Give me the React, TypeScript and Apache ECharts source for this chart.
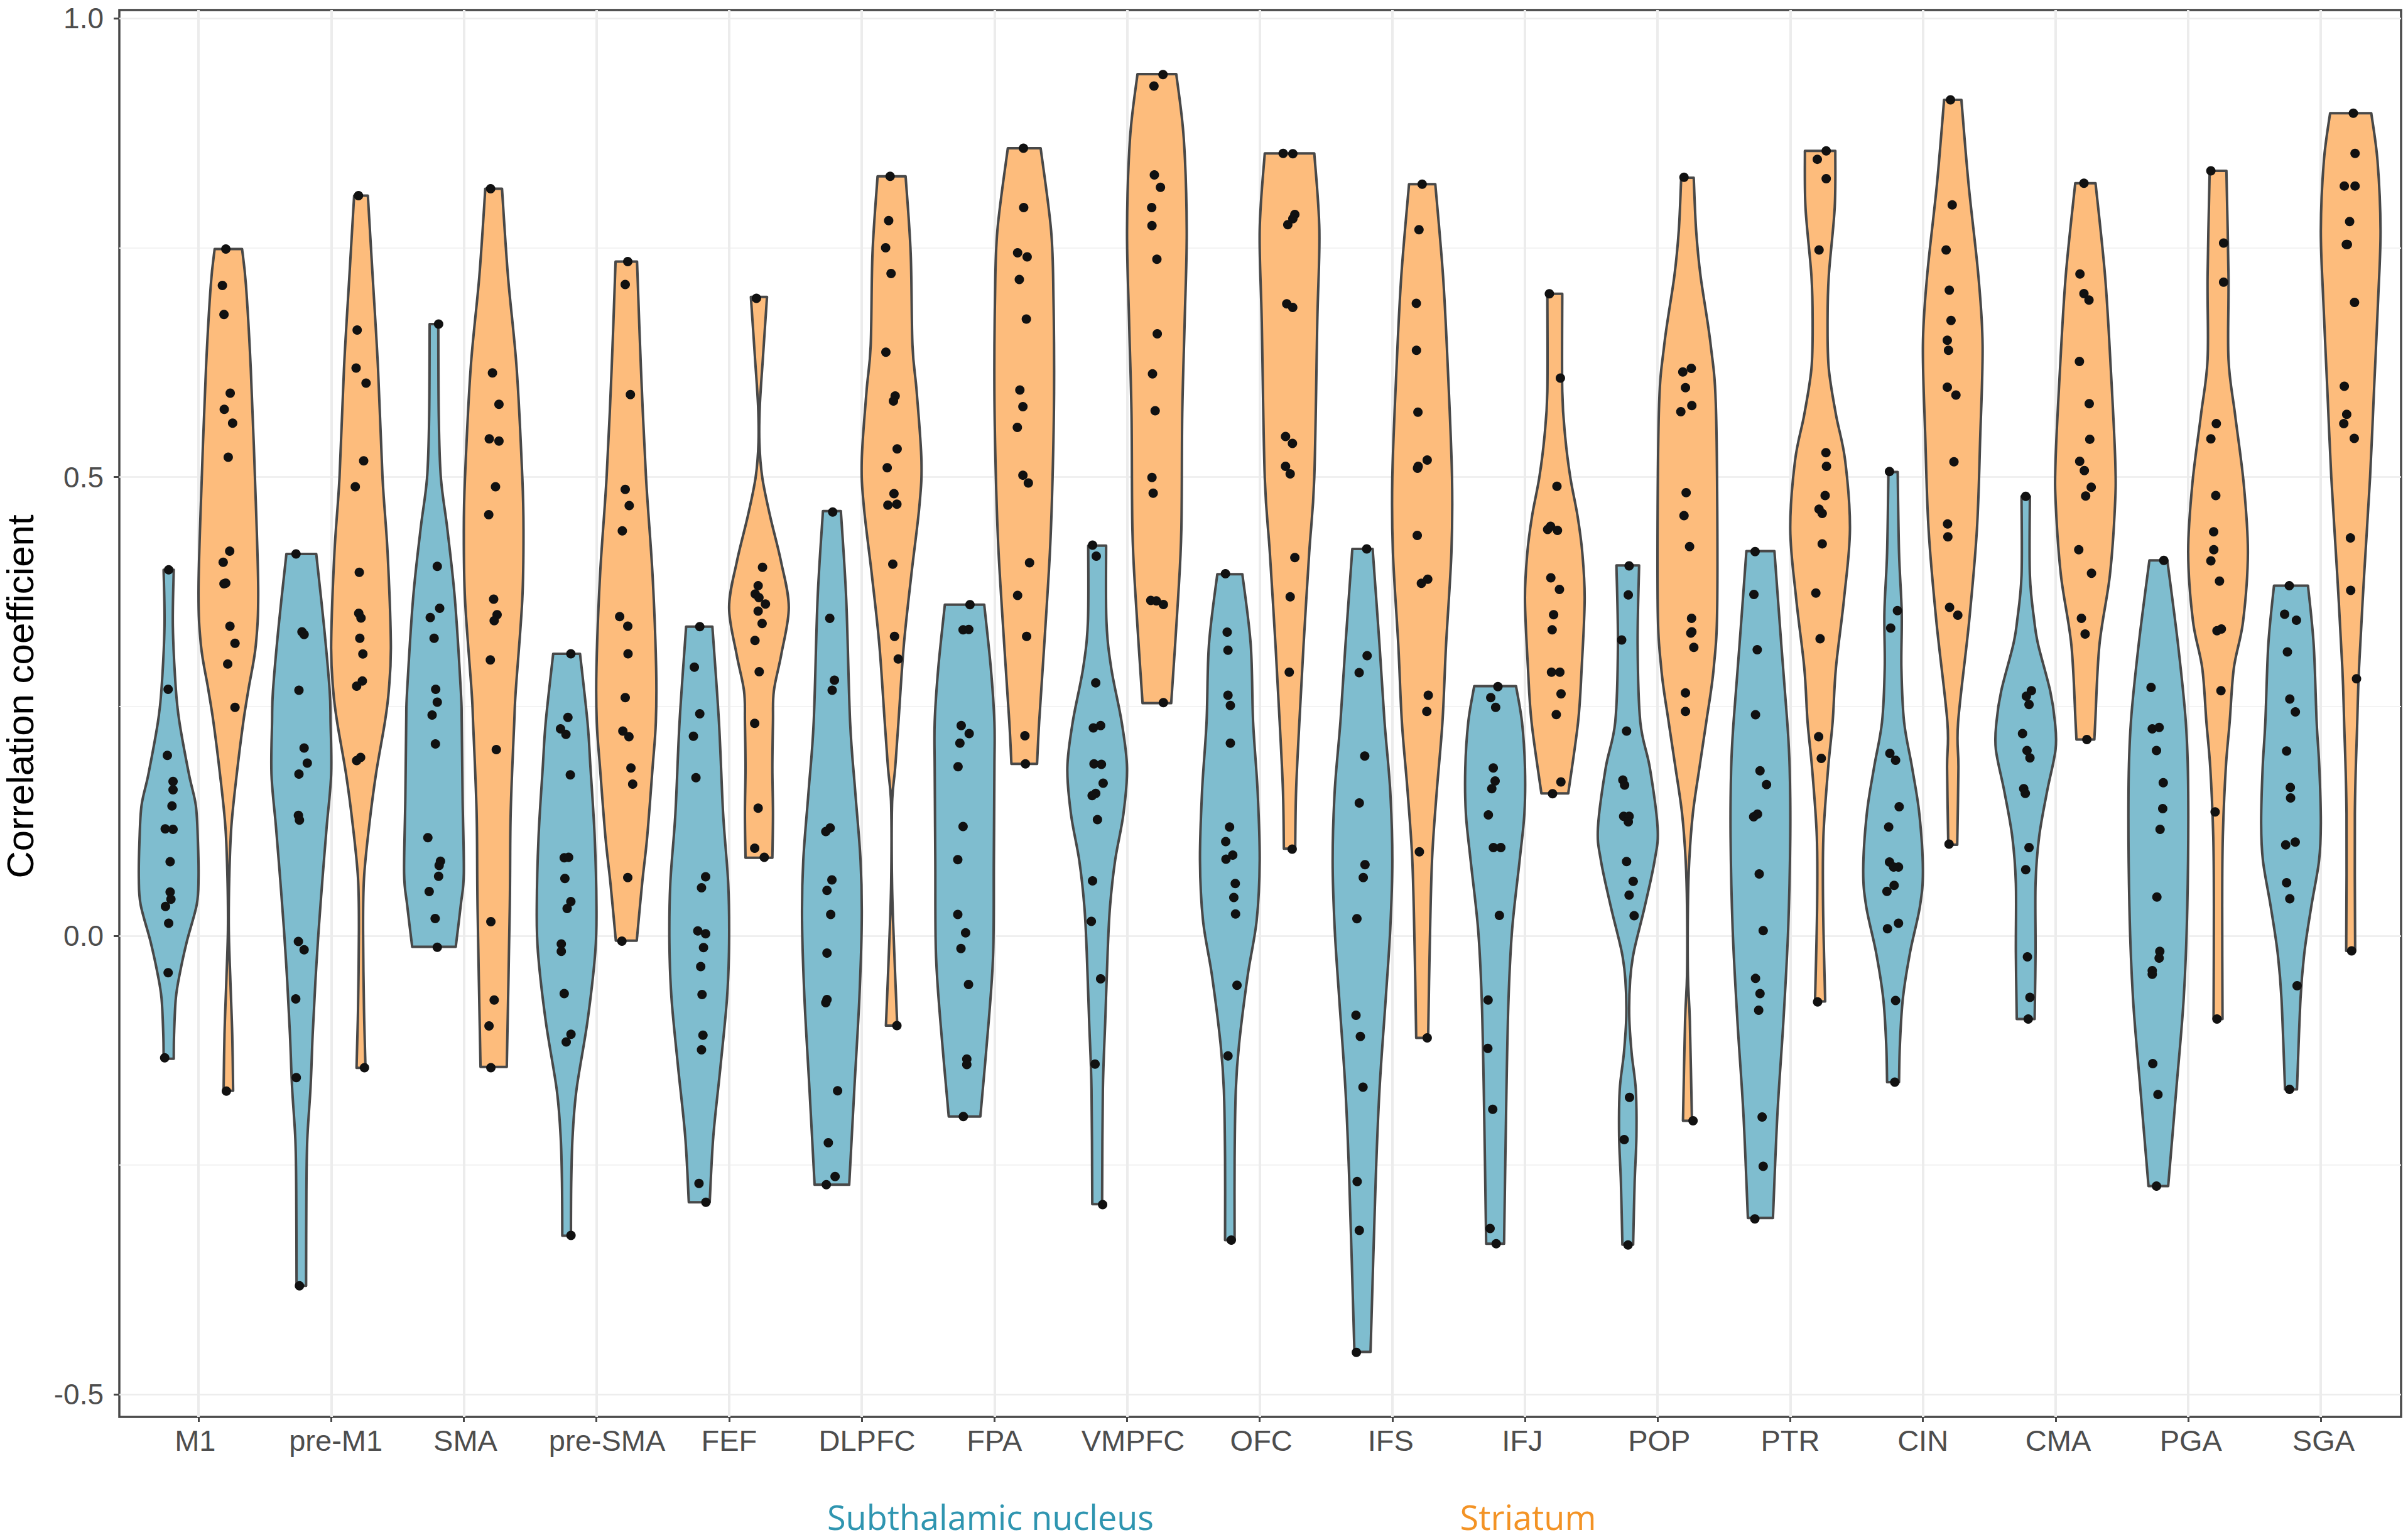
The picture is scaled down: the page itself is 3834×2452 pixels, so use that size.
import React, { useEffect, useRef } from "react";
import * as echarts from "echarts";

type Pair = [number, number];

const regions = ["M1","pre-M1","SMA","pre-SMA","FEF","DLPFC","FPA","VMPFC","OFC","IFS","IFJ","POP","PTR","CIN","CMA","PGA","SGA"];
const yTicks = [-0.5, 0, 0.5, 1];
const yMinorTicks = [-0.25, 0.25, 0.75];

// Violin outlines: [correlation, width relative to the widest point], top to bottom
const stnOutlines: Pair[][] = [
  [[.399,.17],[.3375,.14],[.269,.24],[.233,.36],[.176,.68],[.142,.91],[.102,.98],[.0625,1],[.034,.94],[-.006,.61],[-.04,.38],[-.068,.24],[-.108,.18],[-.134,.17]],
  [[.4163,.5],[.3375,.76],[.267,.95],[.233,.98],[.176,1],[.119,.85],[.0625,.71],[.006,.58],[-.051,.47],[-.108,.38],[-.165,.31],[-.222,.2],[-.279,.17],[-.3815,.16]],
  [[.6668,.145],[.5684,.16],[.5,.23],[.443,.45],[.3676,.7],[.267,.9],[.233,.93],[.148,.96],[.068,1],[.034,.9],[-.012,.73]],
  [[.3074,.45],[.233,.7],[.183,.8],[.108,.94],[.032,1],[-.018,.96],[-.093,.7],[-.168,.33],[-.219,.2],[-.269,.155],[-.327,.145]],
  [[.337,.44],[.233,.66],[.133,.8],[.057,.97],[-.008,1],[-.068,.93],[-.143,.71],[-.219,.47],[-.2905,.35]],
  [[.463,.3],[.367,.48],[.233,.61],[.158,.78],[.082,.96],[.017,1],[-.068,.92],[-.168,.75],[-.2714,.58]],
  [[.361,.66],[.292,.88],[.233,1],[.183,1],[.082,.98],[-.018,.96],[-.093,.81],[-.197,.53]],
  [[.4253,.3],[.343,.31],[.292,.47],[.233,.82],[.183,1],[.133,.88],[.082,.6],[.032,.43],[-.018,.35],[-.093,.27],[-.168,.19],[-.2925,.165]],
  [[.3942,.42],[.3174,.7],[.233,.78],[.158,.93],[.082,1],[.017,.9],[-.043,.6],[-.118,.31],[-.168,.2],[-.244,.16],[-.3317,.16]],
  [[.4218,.34],[.3174,.57],[.233,.74],[.158,.93],[.082,1],[.007,.93],[-.068,.78],[-.168,.57],[-.269,.44],[-.4536,.27]],
  [[.2722,.7],[.233,.9],[.183,1],[.133,.98],[.082,.82],[.007,.57],[-.068,.45],[-.168,.38],[-.3357,.3]],
  [[.4037,.38],[.3174,.33],[.233,.42],[.183,.74],[.1177,1],[.082,.9],[.032,.57],[-.018,.2],[-.048,.08],[-.088,.05],[-.128,.13],[-.168,.27],[-.219,.29],[-.269,.23],[-.3367,.18]],
  [[.4193,.47],[.3174,.7],[.233,.9],[.183,.98],[.108,1],[.007,.93],[-.093,.77],[-.194,.57],[-.3076,.42]],
  [[.5056,.155],[.4178,.2],[.3525,.29],[.292,.28],[.233,.37],[.183,.64],[.133,.88],[.072,1],[.032,.9],[-.018,.57],[-.068,.33],[-.118,.23],[-.1595,.2]],
  [[.479,.14],[.393,.14],[.3426,.29],[.317,.42],[.267,.82],[.233,.98],[.203,1],[.158,.72],[.108,.45],[.057,.33],[-.018,.33],[-.0907,.3]],
  [[.4093,.3],[.3174,.66],[.233,.92],[.158,1],[.032,.97],[-.068,.85],[-.168,.6],[-.2729,.33]],
  [[.3816,.57],[.3174,.76],[.233,.86],[.183,.95],[.1227,1],[.082,.94],[.032,.68],[-.018,.45],[-.068,.32],[-.1675,.2]],
];

const strOutlines: Pair[][] = [
  [[.7486,.46],[.709,.59],[.6186,.75],[.5,.89],[.378,1],[.317,.92],[.27,.68],[.233,.5],[.176,.28],[.119,.1],[.0625,.03],[.006,.015],[-.051,.07],[-.108,.13],[-.169,.16]],
  [[.8068,.23],[.719,.39],[.6186,.57],[.5,.72],[.418,.89],[.317,1],[.267,.93],[.233,.8],[.176,.5],[.119,.27],[.0625,.1],[.006,.07],[-.08,.1],[-.144,.15]],
  [[.8144,.28],[.719,.48],[.619,.77],[.5,.96],[.443,1],[.367,.96],[.267,.74],[.233,.69],[.133,.57],[.032,.54],[-.143,.44]],
  [[.735,.36],[.619,.49],[.5,.66],[.393,.88],[.292,1],[.233,.99],[.183,.88],[.108,.7],[.057,.53],[-.0054,.35]],
  [[.6964,.27],[.6286,.13],[.578,.03],[.538,.015],[.5,.11],[.458,.37],[.408,.74],[.358,1],[.307,.75],[.267,.5],[.233,.47],[.183,.45],[.133,.47],[.085,.45]],
  [[.8279,.47],[.744,.64],[.6437,.7],[.5935,.84],[.518,1],[.468,.93],[.393,.66],[.317,.41],[.233,.23],[.183,.12],[.143,.015],[.057,.015],[-.018,.09],[-.098,.19]],
  [[.8586,.55],[.769,.9],[.694,.98],[.593,1],[.5,.95],[.418,.86],[.317,.67],[.233,.5],[.1874,.43]],
  [[.9394,.65],[.8696,.9],[.7692,1],[.6688,.93],[.5684,.85],[.443,.82],[.3676,.71],[.2536,.48]],
  [[.853,.83],[.7692,1],[.6688,.93],[.5,.83],[.4178,.66],[.317,.47],[.233,.33],[.158,.22],[.095,.19]],
  [[.8194,.44],[.719,.7],[.6186,.86],[.5,1],[.418,.98],[.317,.8],[.233,.68],[.158,.49],[.082,.33],[-.018,.25],[-.1113,.2]],
  [[.6999,.25],[.5935,.25],[.5433,.35],[.4996,.52],[.458,.76],[.418,.92],[.367,1],[.292,.9],[.233,.78],[.1553,.45]],
  [[.8264,.21],[.7692,.29],[.719,.44],[.6437,.78],[.5684,.96],[.367,1],[.292,.88],[.233,.63],[.183,.4],[.133,.18],[.082,.06],[.032,.015],[-.043,.015],[-.093,.08],[-.2016,.15]],
  [[.8556,.51],[.7943,.49],[.719,.29],[.669,.25],[.6186,.29],[.5684,.53],[.518,.84],[.443,1],[.367,.8],[.292,.53],[.233,.42],[.183,.27],[.108,.11],[.032,.1],[-.0716,.17]],
  [[.9113,.29],[.8194,.53],[.719,.86],[.6437,1],[.5433,.92],[.443,.81],[.343,.55],[.233,.18],[.183,.19],[.0993,.15]],
  [[.8204,.34],[.719,.66],[.6186,.85],[.518,1],[.468,.99],[.393,.82],[.317,.47],[.233,.33],[.214,.3]],
  [[.834,.28],[.719,.35],[.6286,.35],[.5684,.57],[.493,.86],[.418,1],[.343,.84],[.292,.53],[.233,.39],[.183,.26],[.108,.16],[.032,.14],[-.0907,.15]],
  [[.8967,.69],[.8445,.9],[.7692,1],[.694,.92],[.5935,.78],[.5,.65],[.393,.45],[.292,.28],[.233,.22],[.133,.14],[-.0164,.15]],
];

// Subject points: [horizontal offset from the region's centre, correlation]
const stnPoints: Pair[][] = [
  [[-.225,.399],[-.229,.2687],[-.235,.1967],[-.192,.1683],[-.192,.1592],[-.2,.1416],[-.251,.1166],[-.192,.116],[-.214,.0807],[-.214,.0478],[-.208,.0398],[-.249,.0319],[-.225,.0137],[-.229,-.0403],[-.255,-.133]],
  [[-.265,.4163],[-.22,.3314],[-.204,.3284],[-.243,.2677],[-.204,.2047],[-.18,.1882],[-.243,.1763],[-.247,.1313],[-.239,.1262],[-.247,-.0062],[-.204,-.0153],[-.267,-.0688],[-.263,-.1546],[-.239,-.3815]],
  [[-.19,.6668],[-.2,.4027],[-.182,.357],[-.253,.347],[-.224,.3244],[-.212,.2687],[-.2,.2546],[-.239,.2406],[-.214,.2092],[-.271,.1069],[-.176,.0813],[-.186,.0767],[-.19,.0648],[-.261,.0483],[-.216,.0188],[-.2,-.0125]],
  [[-.193,.3074],[-.215,.238],[-.271,.2256],[-.23,.2195],[-.197,.1754],[-.243,.085],[-.21,.0855],[-.238,.0624],[-.193,.0373],[-.221,.0298],[-.265,-.0089],[-.265,-.0169],[-.243,-.063],[-.192,-.1073],[-.228,-.1158],[-.192,-.3266]],
  [[-.221,.337],[-.262,.2928],[-.221,.242],[-.269,.2175],[-.25,.1724],[-.177,.0644],[-.208,.0524],[-.236,.0052],[-.177,.0022],[-.193,-.0129],[-.214,-.0335],[-.204,-.0641],[-.197,-.1083],[-.208,-.1243],[-.227,-.2699],[-.175,-.2905]],
  [[-.219,.462],[-.241,.346],[-.206,.2787],[-.223,.2677],[-.238,.1176],[-.271,.1136],[-.225,.0609],[-.262,.0494],[-.234,.0233],[-.262,-.0189],[-.262,-.0696],[-.271,-.073],[-.182,-.169],[-.252,-.2257],[-.201,-.2624],[-.267,-.2714]],
  [[-.184,.361],[-.236,.3335],[-.193,.334],[-.25,.2291],[-.19,.2205],[-.26,.21],[-.274,.1844],[-.236,.1191],[-.276,.083],[-.276,.0233],[-.217,.0032],[-.252,-.0139],[-.195,-.0531],[-.208,-.1344],[-.208,-.1404],[-.234,-.1971]],
  [[-.26,.4258],[-.232,.4138],[-.236,.2757],[-.254,.2266],[-.199,.2291],[-.249,.1874],[-.193,.1869],[-.18,.1663],[-.236,.1553],[-.263,.1528],[-.223,.1267],[-.26,.0599],[-.269,.0157],[-.199,-.047],[-.241,-.1399],[-.184,-.293]],
  [[-.258,.3947],[-.245,.331],[-.239,.3114],[-.239,.2622],[-.221,.2511],[-.221,.21],[-.227,.1186],[-.256,.1026],[-.203,.088],[-.254,.0835],[-.184,.0569],[-.195,.0418],[-.182,.0238],[-.171,-.054],[-.239,-.1309],[-.214,-.3317]],
  [[-.193,.4218],[-.19,.3053],[-.25,.2868],[-.208,.196],[-.249,.1447],[-.206,.0775],[-.219,.0634],[-.267,.0187],[-.274,-.0867],[-.241,-.1098],[-.221,-.165],[-.265,-.2679],[-.249,-.3211],[-.271,-.4541]],
  [[-.204,.2717],[-.258,.2597],[-.221,.2491],[-.239,.1829],[-.225,.1688],[-.25,.1603],[-.276,.1317],[-.238,.0961],[-.182,.0961],[-.193,.0223],[-.278,-.07],[-.28,-.1228],[-.243,-.1891],[-.263,-.3191],[-.217,-.3357]],
  [[-.215,.4032],[-.221,.3716],[-.271,.3224],[-.234,.2231],[-.262,.1698],[-.249,.1643],[-.256,.1302],[-.215,.1302],[-.221,.1242],[-.234,.081],[-.184,.0594],[-.215,.0443],[-.177,.0218],[-.212,-.1761],[-.252,-.2222],[-.223,-.337]],
  [[-.265,.4188],[-.274,.3721],[-.249,.3119],[-.262,.241],[-.228,.1799],[-.179,.1648],[-.247,.1327],[-.276,.1297],[-.234,.0674],[-.204,.0057],[-.262,-.0465],[-.228,-.0631],[-.238,-.0812],[-.212,-.1976],[-.204,-.2513],[-.267,-.3086]],
  [[-.252,.5061],[-.192,.3545],[-.243,.3355],[-.249,.1989],[-.206,.1914],[-.179,.1407],[-.258,.1186],[-.252,.0805],[-.221,.075],[-.184,.075],[-.217,.0549],[-.271,.0484],[-.184,.0137],[-.267,.0077],[-.206,-.0706],[-.212,-.1595]],
  [[-.225,.4791],[-.182,.2672],[-.2,.2521],[-.22,.2611],[-.249,.2205],[-.215,.202],[-.193,.1939],[-.24,.1603],[-.228,.1553],[-.2,.0961],[-.225,.072],[-.212,-.0229],[-.193,-.0671],[-.206,-.0907]],
  [[-.184,.4093],[-.28,.2707],[-.271,.2256],[-.219,.2271],[-.239,.202],[-.188,.1668],[-.192,.1387],[-.212,.1161],[-.236,.0423],[-.214,-.0169],[-.219,-.0244],[-.271,-.038],[-.271,-.042],[-.267,-.1394],[-.228,-.173],[-.239,-.2729]],
  [[-.238,.3816],[-.273,.3505],[-.184,.344],[-.252,.3094],[-.234,.2581],[-.192,.2441],[-.258,.2015],[-.23,.1618],[-.228,.1503],[-.193,.1021],[-.265,.0991],[-.258,.0579],[-.234,.0403],[-.179,-.0545],[-.236,-.1675]],
];

const strPoints: Pair[][] = [
  [[.206,.7486],[.18,.709],[.192,.6773],[.239,.5915],[.194,.5739],[.257,.5589],[.224,.5217],[.235,.4193],[.186,.4072],[.192,.3837],[.205,.3845],[.237,.3375],[.275,.3189],[.22,.2963],[.275,.2491],[.21,-.1694]],
  [[.206,.8068],[.196,.6603],[.188,.619],[.263,.6025],[.245,.5177],[.182,.4896],[.212,.3962],[.208,.3515],[.225,.3465],[.216,.3244],[.239,.3073],[.235,.2777],[.192,.2722],[.222,.1944],[.192,.191],[.251,-.1438]],
  [[.202,.8144],[.216,.6136],[.265,.5794],[.192,.5418],[.265,.5393],[.239,.4896],[.188,.459],[.225,.367],[.251,.35],[.229,.3435],[.2,.3008],[.245,.203],[.204,.0154],[.229,-.07],[.19,-.0983],[.204,-.1438]],
  [[.236,.735],[.217,.71],[.256,.59],[.217,.4866],[.247,.469],[.195,.4414],[.175,.348],[.236,.3375],[.238,.3074],[.217,.2597],[.199,.2231],[.245,.217],[.26,.1829],[.273,.1653],[.236,.0634],[.192,-.0059]],
  [[.206,.695],[.252,.4017],[.219,.3816],[.197,.3726],[.225,.3686],[.274,.3616],[.219,.354],[.249,.3405],[.195,.322],[.227,.2878],[.193,.2316],[.219,.1392],[.193,.0955],[.265,.0855]],
  [[.214,.8279],[.203,.7797],[.18,.7501],[.221,.722],[.182,.6362],[.252,.5885],[.239,.5829],[.267,.5307],[.192,.5102],[.243,.482],[.197,.4695],[.265,.4705],[.234,.4052],[.247,.3264],[.275,.3018],[.265,-.098]],
  [[.219,.8586],[.221,.7938],[.175,.7446],[.247,.7401],[.188,.7155],[.241,.6723],[.192,.595],[.215,.5769],[.173,.5543],[.215,.5021],[.256,.4936],[.265,.4067],[.175,.3711],[.243,.3264],[.23,.218],[.234,.1874]],
  [[.271,.9389],[.203,.9263],[.206,.8294],[.252,.8159],[.186,.7938],[.188,.7742],[.225,.7376],[.228,.6562],[.192,.6126],[.212,.5724],[.188,.4996],[.197,.4825],[.179,.3656],[.221,.3651],[.274,.3611],[.274,.2541]],
  [[.177,.853],[.25,.8525],[.265,.7863],[.25,.7817],[.212,.7752],[.204,.689],[.249,.685],[.195,.5443],[.247,.5368],[.195,.5117],[.23,.5036],[.265,.4123],[.23,.3696],[.223,.2873],[.245,.0945]],
  [[.225,.8194],[.201,.7697],[.181,.6894],[.182,.6382],[.193,.5709],[.263,.5187],[.195,.5117],[.19,.5097],[.188,.4364],[.267,.3887],[.219,.3842],[.271,.2622],[.26,.2446],[.204,.0915],[.263,-.1113]],
  [[.184,.6999],[.267,.608],[.241,.49],[.171,.4429],[.193,.4464],[.245,.4419],[.195,.3902],[.26,.3776],[.216,.35],[.205,.3335],[.2,.2873],[.263,.2873],[.272,.2637],[.236,.2411],[.271,.1678],[.208,.1548]],
  [[.199,.8269],[.19,.6146],[.254,.6186],[.21,.5975],[.258,.578],[.175,.5714],[.215,.4831],[.199,.458],[.241,.4243],[.256,.346],[.258,.3314],[.25,.33],[.273,.3144],[.21,.2647],[.21,.2446],[.267,-.2016]],
  [[.271,.8556],[.204,.8465],[.271,.8254],[.217,.7476],[.269,.5267],[.273,.5117],[.263,.48],[.217,.465],[.241,.4605],[.241,.4273],[.193,.3736],[.225,.3239],[.214,.217],[.234,.1934],[.206,-.0721]],
  [[.208,.9113],[.221,.7968],[.175,.7476],[.199,.7039],[.212,.6708],[.184,.6492],[.193,.6382],[.184,.598],[.249,.5895],[.234,.5167],[.186,.4489],[.188,.4349],[.201,.358],[.263,.3495],[.197,.1]],
  [[.214,.8204],[.184,.7215],[.214,.7],[.252,.693],[.18,.6261],[.254,.58],[.258,.5413],[.182,.5172],[.217,.5071],[.269,.489],[.227,.4795],[.175,.4208],[.271,.3952],[.195,.346],[.223,.3289],[.236,.214]],
  [[.171,.834],[.267,.7551],[.267,.7125],[.212,.5584],[.171,.5418],[.208,.48],[.192,.4404],[.193,.4208],[.171,.4088],[.236,.3867],[.25,.3345],[.217,.3325],[.247,.2672],[.203,.135],[.217,-.0907]],
  [[.245,.8967],[.258,.853],[.177,.8174],[.258,.8174],[.217,.7787],[.192,.7536],[.2,.7536],[.254,.6904],[.177,.599],[.195,.5684],[.173,.5584],[.252,.5423],[.223,.4338],[.225,.3766],[.269,.2802],[.232,-.0164]],
];

const dodge = 0.225;
const X_MIN = 0.403, X_MAX = 17.605, Y_MIN = -0.5245, Y_MAX = 1.0092;

// The labels in the reference sit slightly off their ticks
const labelNudge = [-.025,.035,.012,.08,0,.04,0,.045,.012,-.012,-.02,.012,0,0,.02,.02,.02];
const labelValues = regions.map((_, i) => i + 1 + labelNudge[i]);

function outlinePath(api: any, center: number, outline: Pair[]): string {
  const n = outline.length;
  const side = (sign: number, pts: Pair[]) => {
    let d = "";
    for (let i = 0; i < pts.length - 1; i++) {
      const p0 = pts[Math.max(i - 1, 0)], p1 = pts[i], p2 = pts[i + 1], p3 = pts[Math.min(i + 2, pts.length - 1)];
      const c1v = p1[0] + (p2[0] - p0[0]) / 6, c2v = p2[0] - (p3[0] - p1[0]) / 6;
      const c1w = Math.max(0, p1[1] + (p2[1] - p0[1]) / 6), c2w = Math.max(0, p2[1] - (p3[1] - p1[1]) / 6);
      const a = api.coord([center + sign * c1w * dodge, c1v]);
      const b = api.coord([center + sign * c2w * dodge, c2v]);
      const c = api.coord([center + sign * p2[1] * dodge, p2[0]]);
      d += `C${a[0]} ${a[1]} ${b[0]} ${b[1]} ${c[0]} ${c[1]}`;
    }
    return d;
  };
  const start = api.coord([center - outline[0][1] * dodge, outline[0][0]]);
  const reversed = [...outline].reverse();
  const bottomRight = api.coord([center + outline[n - 1][1] * dodge, outline[n - 1][0]]);
  return `M${start[0]} ${start[1]}` + side(-1, outline) + `L${bottomRight[0]} ${bottomRight[1]}` + side(1, reversed) + "Z";
}

const violinSeries = (name: string, outlines: Pair[][], shift: number, fill: string) => ({
  type: "custom",
  name,
  silent: true,
  z: 3,
  data: regions.map((_, i) => [i + 1, 0]),
  encode: { x: 0, y: 1 },
  renderItem: (params: any, api: any) => {
    const idx = api.value(0) as number;
    return {
      type: "path",
      shape: { pathData: outlinePath(api, idx + shift, outlines[idx - 1]) },
      style: { fill, stroke: "#484848", lineWidth: 4, lineJoin: "round" },
    };
  },
});

const pointSeries = (name: string, points: Pair[][]) => ({
  type: "scatter",
  name,
  silent: true,
  z: 5,
  symbolSize: 15,
  itemStyle: { color: "#111111", opacity: 1 },
  data: points.flatMap((list, i) => list.map(([dx, v]) => [i + 1 + dx, v])),
});

export default function App() {
  const ref = useRef<HTMLDivElement>(null);
  useEffect(() => {
    const chart = echarts.init(ref.current!, undefined, { renderer: "svg" });
    chart.setOption({
      animation: false,
      backgroundColor: "#ffffff",
      grid: { left: 190, top: 16, right: 11, bottom: 196, show: true, borderColor: "#484848", borderWidth: 3.5, backgroundColor: "#ffffff", z: 0 },
      xAxis: {
        type: "value", min: X_MIN, max: X_MAX,
        axisLine: { show: false, onZero: false },
        axisTick: { show: true, length: 8, customValues: regions.map((_, i) => i + 1), lineStyle: { color: "#484848", width: 3 } },
        axisLabel: {
          customValues: labelValues,
          formatter: (v: number) => regions[Math.round(v) - 1] ?? "",
          color: "#4d4d4d", fontFamily: "Liberation Sans", fontSize: 47, margin: 14,
        },
        splitLine: { show: true, lineStyle: { color: "#ececec", width: 4 } },
      },
      yAxis: [
        {
          type: "value", min: Y_MIN, max: Y_MAX,
          axisLine: { show: false, onZero: false },
          axisTick: { show: true, length: 9, customValues: yTicks, lineStyle: { color: "#484848", width: 3 } },
          axisLabel: {
            customValues: yTicks,
            formatter: (v: number) => v.toFixed(1),
            color: "#4d4d4d", fontFamily: "Liberation Sans", fontSize: 46, margin: 25,
          },
          splitLine: { show: true, lineStyle: { color: "#ececec", width: 2.5 } },
        },
        {
          type: "value", min: Y_MIN, max: Y_MAX, position: "left",
          axisLine: { show: false, onZero: false },
          axisTick: { show: false, customValues: yMinorTicks },
          axisLabel: { show: false },
          splitLine: { show: true, lineStyle: { color: "#f3f3f3", width: 2 } },
        },
      ],
      graphic: [
        { type: "text", x: 32, y: 1109, rotation: Math.PI / 2, style: { text: "Correlation coefficient", font: "60px 'Liberation Sans'", fill: "#000000", textAlign: "center", textVerticalAlign: "middle" } },
        { type: "text", x: 1577, y: 2415, style: { text: "Subthalamic nucleus", font: "54px 'Open Sans'", fill: "#2f95b0", textAlign: "center", textVerticalAlign: "middle" } },
        { type: "text", x: 2433, y: 2415, style: { text: "Striatum", font: "54px 'Open Sans'", fill: "#f39325", textAlign: "center", textVerticalAlign: "middle" } },
      ],
      series: [
        violinSeries("Subthalamic nucleus", stnOutlines, -dodge, "rgba(120,185,204,0.95)"),
        violinSeries("Striatum", strOutlines, dodge, "rgba(253,184,117,0.95)"),
        pointSeries("Subthalamic nucleus points", stnPoints),
        pointSeries("Striatum points", strPoints),
      ],
    });
    return () => chart.dispose();
  }, []);
  return <div ref={ref} style={{ position: "fixed", left: 0, top: 0, width: 3834, height: 2452 }} />;
}
